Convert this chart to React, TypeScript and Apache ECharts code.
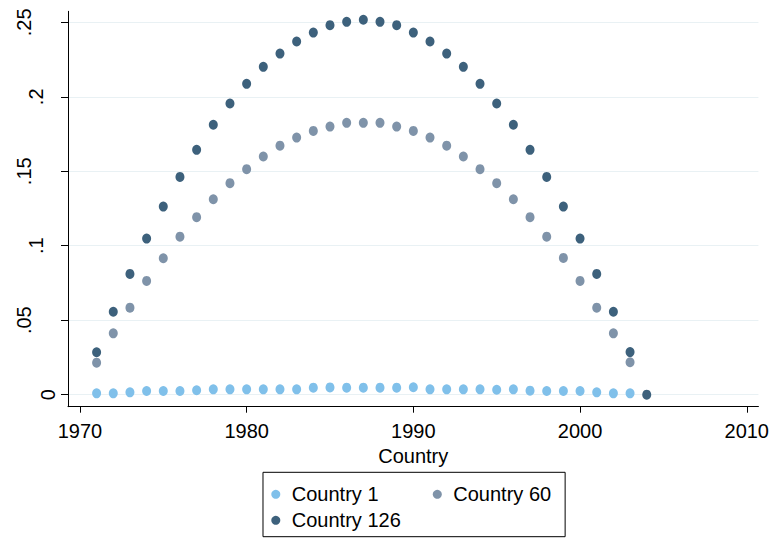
import React, { useEffect, useRef } from "react";
import * as echarts from "echarts";

const FONT = "'Liberation Sans', Arial, Helvetica, sans-serif";

const years = [
  1971, 1972, 1973, 1974, 1975, 1976, 1977, 1978, 1979, 1980, 1981, 1982,
  1983, 1984, 1985, 1986, 1987, 1988, 1989, 1990, 1991, 1992, 1993, 1994,
  1995, 1996, 1997, 1998, 1999, 2000, 2001, 2002, 2003, 2004,
];

const country1 = [
  0.0009, 0.0009, 0.0016, 0.0025, 0.0025, 0.0025, 0.003, 0.0036, 0.0036,
  0.0036, 0.0036, 0.0036, 0.0036, 0.0047, 0.0049, 0.0047, 0.0047, 0.0047,
  0.0047, 0.005, 0.0036, 0.0036, 0.0036, 0.0036, 0.0033, 0.0036, 0.0027,
  0.0025, 0.0025, 0.0025, 0.0016, 0.0009, 0.0009,
];

const country60 = [
  0.0215, 0.0412, 0.0584, 0.0764, 0.0916, 0.1061, 0.1192, 0.1312, 0.142,
  0.1514, 0.1599, 0.1672, 0.1726, 0.1771, 0.18, 0.1825, 0.1825, 0.1825, 0.18,
  0.1771, 0.1726, 0.1672, 0.1599, 0.1514, 0.142, 0.1312, 0.1192, 0.1061,
  0.0918, 0.0764, 0.0584, 0.0412, 0.0218,
];

const country126 = [
  0.0285, 0.0557, 0.0811, 0.1048, 0.1263, 0.1462, 0.1644, 0.1812, 0.1955,
  0.2087, 0.2201, 0.229, 0.2371, 0.2431, 0.2481, 0.2503, 0.2517, 0.2503,
  0.2481, 0.2431, 0.2371, 0.229, 0.2201, 0.2087, 0.1955, 0.1812, 0.1644,
  0.1462, 0.1263, 0.1048, 0.0811, 0.0557, 0.0286, 0,
];

const xTicks = [1970, 1980, 1990, 2000, 2010];
const yTicks = [0, 0.05, 0.1, 0.15, 0.2, 0.25];
const yTickLabels = ["0", ".05", ".1", ".15", ".2", ".25"];

const seriesNames = ["Country 1", "Country 60", "Country 126"];
const seriesColors = ["#80c0ea", "#7f93a9", "#3d617c"];

const pairs = (vals: number[]) => vals.map((v, i) => [years[i], v]);

export default function App() {
  const ref = useRef<HTMLDivElement>(null);
  useEffect(() => {
    if (!ref.current) return;
    const chart = echarts.init(ref.current, undefined, { renderer: "svg" });
    const allData = [country1, country60, country126];
    chart.setOption({
      animation: false,
      backgroundColor: "#ffffff",
      grid: { left: 68, right: 10.3, top: 11.3, bottom: 131.3, containLabel: false },
      xAxis: {
        type: "value",
        min: 1969.284,
        max: 2010.7,
        name: "Country",
        nameLocation: "middle",
        nameGap: 31,
        nameTextStyle: { fontSize: 20, color: "#000", fontFamily: FONT },
        axisLine: { show: true, onZero: false, lineStyle: { color: "#000", width: 1 } },
        axisTick: { show: true, length: 6, customValues: xTicks, lineStyle: { color: "#000", width: 1 } },
        axisLabel: {
          customValues: xTicks,
          fontSize: 20,
          color: "#000",
          margin: 14,
          fontFamily: FONT,
          formatter: (v: number) => String(Math.round(v)),
        },
        splitLine: { show: false },
      },
      yAxis: {
        type: "value",
        min: -0.00806,
        max: 0.25739,
        axisLine: { show: true, onZero: false, lineStyle: { color: "#000", width: 1 } },
        axisTick: { show: true, length: 7, customValues: yTicks, lineStyle: { color: "#000", width: 1 } },
        axisLabel: {
          customValues: yTicks,
          rotate: 90,
          margin: 10,
          fontSize: 20,
          color: "#000",
          fontFamily: FONT,
          formatter: (v: number) => {
            const idx = yTicks.findIndex((t) => Math.abs(t - v) < 1e-9);
            const s = idx >= 0 ? yTickLabels[idx] : "";
            if (s.length >= 3) return "{c|" + s + "}";
            if (s.length === 2) return "{b|" + s + "}";
            return "{a|" + s + "}";
          },
          rich: {
            a: { fontSize: 20, fontFamily: FONT, color: "#000", padding: [0, 0, 0, 0] },
            b: { fontSize: 20, fontFamily: FONT, color: "#000", padding: [0, 0, 12, 0] },
            c: { fontSize: 20, fontFamily: FONT, color: "#000", padding: [0, 0, 24, 0] },
          },
        },
        splitLine: { show: true, lineStyle: { color: "#e9f1f4", width: 1 } },
      },
      legend: {
        left: 263,
        top: 472.3,
        orient: "horizontal",
        width: 340,
        itemWidth: 22,
        itemHeight: 9,
        itemGap: 0,
        padding: [9, 14, 3.4, 8.3],
        borderColor: "#000",
        borderWidth: 1,
        icon: "circle",
        selectedMode: false,
        textStyle: { fontSize: 20, color: "#000", fontFamily: FONT, lineHeight: 26 },
        data: [
          { name: seriesNames[0], textStyle: { width: 141 } },
          { name: seriesNames[1] },
          { name: seriesNames[2] },
        ],
      },
      series: seriesNames.map((name, i) => ({
        name,
        type: "scatter",
        symbol: "circle",
        symbolSize: [9, 10],
        itemStyle: { color: seriesColors[i], opacity: 1 },
        data: pairs(allData[i]),
        z: 2 + i,
      })),
    });
    return () => chart.dispose();
  }, []);
  return <div ref={ref} style={{ width: 772, height: 538, position: "absolute", left: 0, top: 0 }} />;
}
